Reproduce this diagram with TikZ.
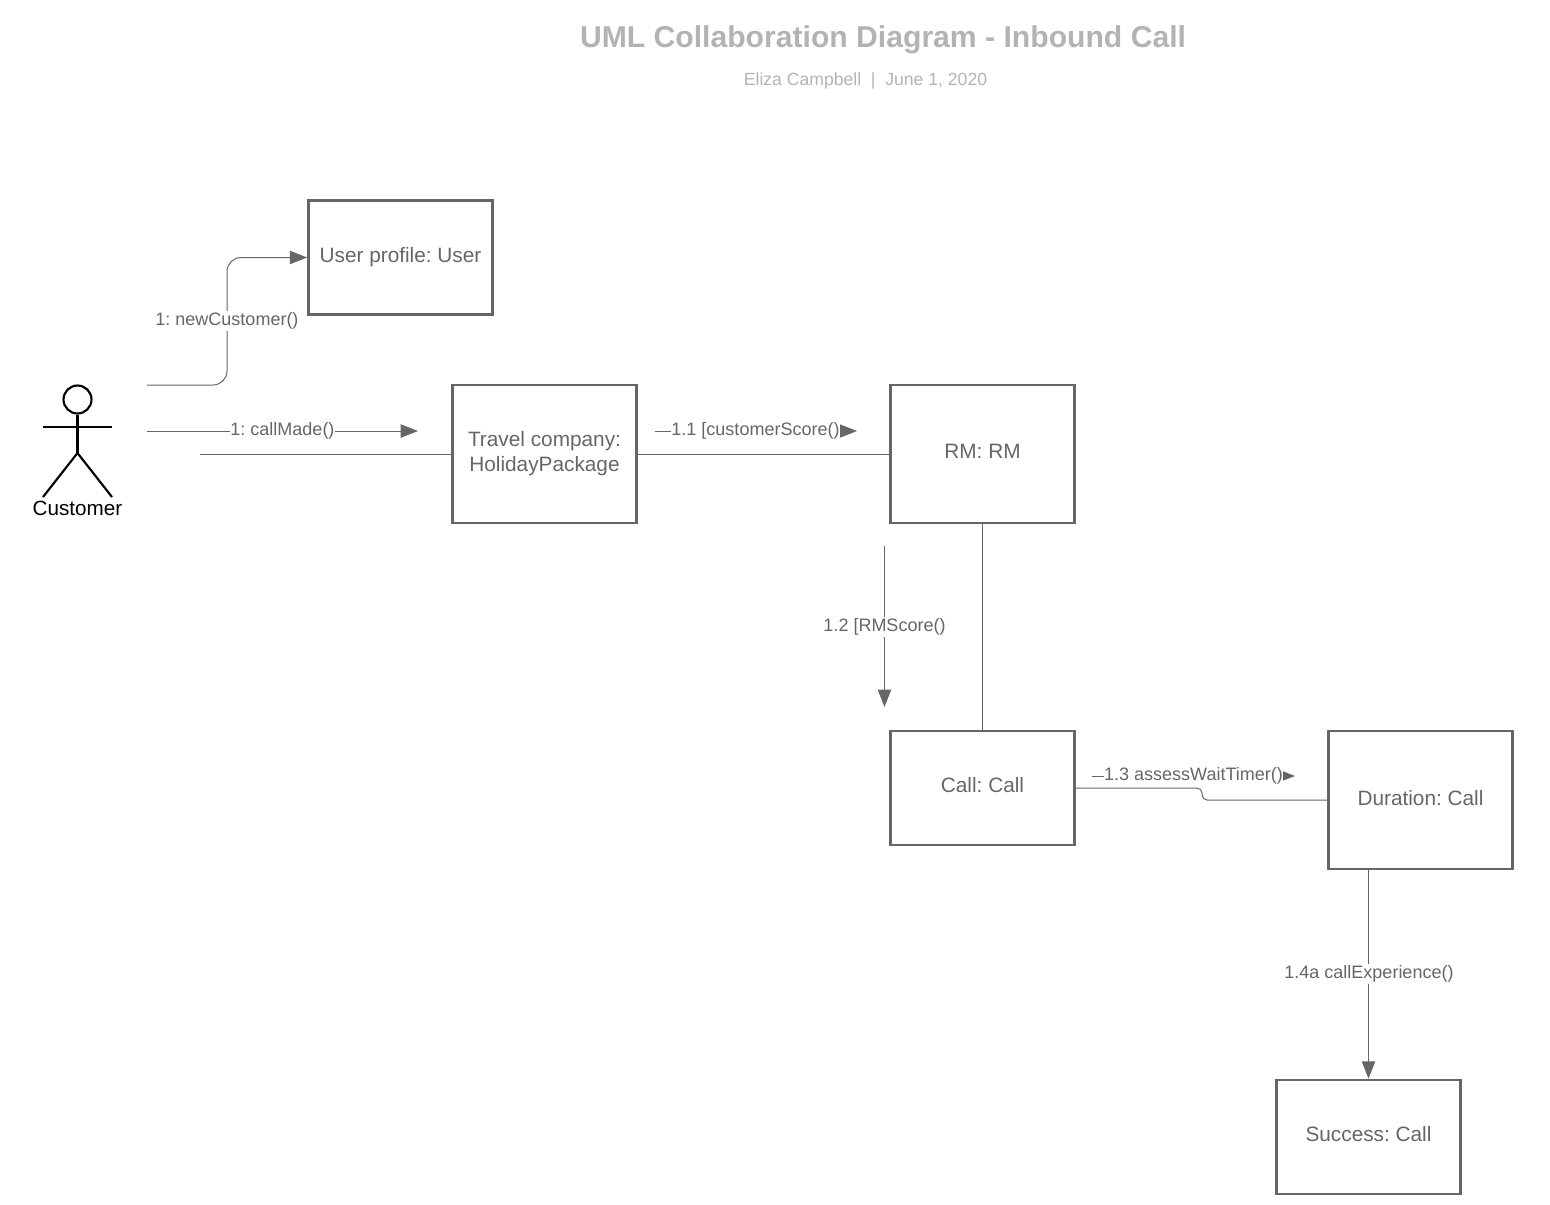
\documentclass[tikz,border=0pt]{standalone}
\usepackage{fontspec}
\setmainfont{Liberation Sans}
\usetikzlibrary{arrows.meta}
\definecolor{boxgray}{HTML}{666666}
\definecolor{titlegray}{HTML}{B3B3B3}
\frenchspacing
\begin{document}
\begin{tikzpicture}[x=0.75pt,y=-0.75pt,
	box/.style={draw=boxgray,line width=2pt,minimum width=184*0.75pt,text=boxgray,font=\fontsize{15.6}{18.8}\selectfont,align=center,inner sep=0pt},
	link/.style={draw=boxgray,line width=0.75pt},
	message/.style={link,-{Triangle[length=13pt,width=10pt]}},
	msglabel/.style={fill=white,text=boxgray,font=\fontsize{13.5}{16}\selectfont,inner xsep=0pt,inner ysep=1pt},
	actor/.style={draw=black,line width=1.6pt}]
	\useasboundingbox (0,0) rectangle (1550,1204);

	\node[font=\bfseries\fontsize{22.6}{28}\selectfont,text=titlegray] at (883,39.5) (title) {UML Collaboration Diagram - Inbound Call};
	\node[font=\fontsize{13.2}{16}\selectfont,text=titlegray] at (865.5,81) (subtitle) {Eliza Campbell~~|~~June 1, 2020};

	\node[box,minimum height=114*0.75pt] at (400.5,257.5) (user) {User profile: User};
	\node[box,minimum height=138*0.75pt] at (544.5,454) (travel) {Travel company:\\HolidayPackage};
	\node[box,minimum height=138*0.75pt,text depth=4.5pt] at (982.5,454) (rm) {RM: RM};
	\node[box,minimum height=114*0.75pt,text depth=4.5pt] at (982.5,788) (call) {Call: Call};
	\node[box,minimum height=138*0.75pt,text depth=3.75pt] at (1420.5,800) (duration) {Duration: Call};
	\node[box,minimum height=114*0.75pt,text depth=5.25pt] at (1368.5,1137) (success) {Success: Call};

	% actor
	\node[actor,circle,minimum size=28*0.75pt,inner sep=0pt] at (77.5,399.5) (head) {};
	\coordinate (hip) at (77.5,453);
	\coordinate (armleft) at (43,427);
	\coordinate (armright) at (112,427);
	\coordinate (footleft) at (43,497);
	\coordinate (footright) at (112,497);
	\draw[actor] (head) -- (hip);
	\draw[actor] (armleft) -- (armright);
	\draw[actor] (footleft) -- (hip) -- (footright);
	\node[font=\fontsize{15.5}{18}\selectfont,text=black,inner sep=0pt] at (77.5,508) (customer) {Customer};

	% free ends of the connectors
	\coordinate (newstart) at (147,385);
	\coordinate (newbend) at (227,385);
	\coordinate (newtop) at (227,257.5);
	\coordinate (madestart) at (147,431);
	\coordinate (madeend) at (418,431);
	\coordinate (assocstart) at (200,454);
	\coordinate (scorestart) at (655,431);
	\coordinate (scoreend) at (857,431);
	\coordinate (rmstart) at (884.5,546);
	\coordinate (rmend) at (884.5,707);
	\coordinate (waitstart) at (1092,776);
	\coordinate (waitend) at (1295,776);
	\coordinate (jogtop) at (1202,788);
	\coordinate (jogbottom) at (1202,800);

	\draw[message,rounded corners=14*0.75pt] (newstart) -- (newbend) -- (newtop) -- (user.west);
	\draw[message] (madestart) -- (madeend);
	\draw[link] (assocstart) -- (travel.west);
	\draw[link] (travel.east) -- (rm.west);
	\draw[message] (scorestart) -- (scoreend);
	\draw[message] (rmstart) -- (rmend);
	\draw[link] (rm.south) -- (call.north);
	\draw[message] (waitstart) -- (waitend);
	\draw[link,rounded corners=5*0.75pt] (call.east) -- (jogtop) -- (jogbottom) -- (duration.west);
	\draw[message] (success.north |- duration.south) -- (success.north);

	\node[msglabel] at (227,321) (newlabel) {1: newCustomer()};
	\node[msglabel] at (282.5,431) (madelabel) {1: callMade()};
	\node[msglabel] at (755.5,431) (scorelabel) {1.1 [customerScore()};
	\node[msglabel] at (884.5,627) (rmlabel) {1.2 [RMScore()};
	\node[msglabel] at (1193.5,776) (waitlabel) {1.3 assessWaitTimer()};
	\node[msglabel] at (1369,974) (explabel) {1.4a callExperience()};
\end{tikzpicture}
\end{document}
